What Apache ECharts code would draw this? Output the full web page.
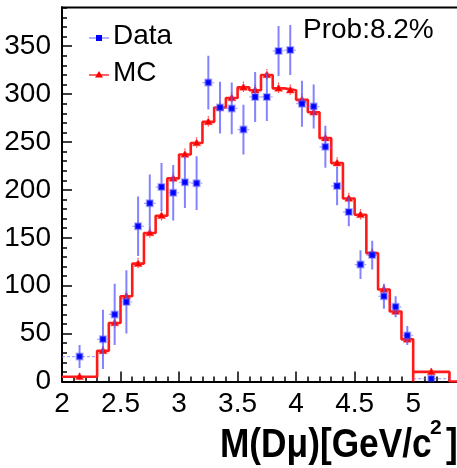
<!DOCTYPE html>
<html><head><meta charset="utf-8">
<script src="https://cdn.jsdelivr.net/npm/echarts@6/dist/echarts.min.js"></script>
<style>html,body{margin:0;padding:0;background:#fff;overflow:hidden;width:457px;height:468px}#c{position:absolute;left:0;top:-10px;width:480px;height:478px}</style>
</head><body><div id="c"></div>
<script>
// bin edges (GeV/c^2)
var binEdges = [2.0,2.3,2.4,2.5,2.6,2.7,2.8,2.9,3.0,3.1,3.2,3.3,3.4,3.5,3.6,3.7,3.8,3.9,4.0,4.1,4.2,4.3,4.4,4.5,4.6,4.7,4.8,4.9,5.0,5.31];
// Data (blue squares) values and vertical errors
var dataVals = [26,44,70,83,162,186,203,197,208,207,312,286,285,263,297,297,345,346,290,287,245,204,177,122,132,89,78,48,3];
var dataErrs = [12,31,32,33,31,30,25,29,27,28,28,27,27,26,26,25,26,26,24,23,22,20,15,15,15,13,11,10,3];
// MC (red histogram) values and errors
var mcVals = [5,32,61,89,123,155,173,212,237,249,271,286,296,307,304,320,306,304,294,281,254,228,191,174,134,96,73,44,10];
var mcErrs = [2,3,3,3,4,4,4,4,4,4,4,4,4,4,4,4,4,4,4,4,4,4,4,4,3,3,3,2,2];
var xTicks = {min:2, max:5.5, step:0.5};
var yTicks = {min:0, max:400, step:50};
var probText = 'Prob:8.2%';

var FONT = '"Liberation Sans", Arial, Helvetica, sans-serif';
var OY = 10; // container is shifted up by OY px
var n = dataVals.length;
var dataItems = [], mcItems = [], stepPts = [];
for (var i = 0; i < n; i++) {
  var lo = binEdges[i], hi = binEdges[i+1];
  var c = (lo + hi) / 2, hw = (hi - lo) / 2;
  dataItems.push([c, dataVals[i], dataErrs[i], hw]);
  mcItems.push([c, mcVals[i], mcErrs[i]]);
  if (i === n - 1) stepPts.push([lo, 0]);
  stepPts.push([lo, mcVals[i]]);
  stepPts.push([hi, mcVals[i]]);
}
stepPts.push([binEdges[n], 0]);
stepPts.push([xTicks.max, 0]);

var chart = echarts.init(document.getElementById('c'), null, {renderer:'canvas'});
var axisCommon = {
  axisLine:{show:true, onZero:false, lineStyle:{color:'#000', width:2}},
  axisTick:{show:true, inside:true, length:10, lineStyle:{color:'#000', width:1.5}},
  minorTick:{show:true, splitNumber:5, length:5, lineStyle:{color:'#000', width:1.5}},
  splitLine:{show:false},
  axisLabel:{color:'#000', fontSize:28, fontFamily:FONT, showMaxLabel:false}
};
function mergeAxis(extra){ var o = JSON.parse(JSON.stringify(axisCommon)); for (var k in extra) o[k] = extra[k]; return o; }

var xAxis = mergeAxis({type:'value', min:xTicks.min, max:xTicks.max, interval:xTicks.step});
xAxis.axisLabel.margin = 9;
var yAxis = mergeAxis({type:'value', min:yTicks.min, max:yTicks.max, interval:yTicks.step});
yAxis.axisLabel.margin = 11;

chart.setOption({
  animation:false,
  backgroundColor:'#fff',
  grid:{left:62, width:409.7, top:8.3, height:383.2, containLabel:false},
  xAxis:xAxis,
  yAxis:yAxis,
  series:[
    {
      type:'line', data:stepPts, showSymbol:false, clip:true, z:2,
      lineStyle:{color:'#ff1a1a', width:2.6}
    },
    {
      type:'custom', data:mcItems, z:3, clip:true,
      renderItem:function(params, api){
        var p = api.coord([api.value(0), api.value(1)]);
        var t = api.coord([api.value(0), api.value(1) + api.value(2)]);
        var b = api.coord([api.value(0), api.value(1) - api.value(2)]);
        var s = 4;
        return {type:'group', children:[
          {type:'line', shape:{x1:p[0], y1:t[1]-2, x2:p[0], y2:b[1]+2}, style:{stroke:'rgba(255,0,0,0.7)', lineWidth:1.2, lineDash:[1.5,1.5]}},
          {type:'polygon', shape:{points:[[p[0], p[1]-s], [p[0]-s, p[1]+s*0.7], [p[0]+s, p[1]+s*0.7]]}, style:{fill:'#ff0000', stroke:'rgba(255,60,60,0.5)', lineWidth:1}}
        ]};
      }
    },
    {
      type:'custom', data:dataItems, z:4, clip:true,
      renderItem:function(params, api){
        var x = api.value(0), y = api.value(1), e = api.value(2), hw = api.value(3);
        var p = api.coord([x, y]);
        var t = api.coord([x, y + e]);
        var b = api.coord([x, Math.max(y - e, 0)]);
        var l = api.coord([x - hw, y]);
        var r = api.coord([x + hw, y]);
        var s = 3;
        return {type:'group', children:[
          {type:'line', shape:{x1:p[0], y1:t[1], x2:p[0], y2:b[1]}, style:{stroke:'rgba(90,90,255,0.75)', lineWidth:2}},
          {type:'line', shape:{x1:l[0], y1:p[1], x2:r[0], y2:p[1]}, style:{stroke:'rgba(110,110,255,0.6)', lineWidth:1.2, lineDash:[3,2]}},
          {type:'rect', shape:{x:p[0]-s, y:p[1]-s, width:2*s, height:2*s}, style:{fill:'#0000ff', stroke:'rgba(90,90,255,0.45)', lineWidth:2}}
        ]};
      }
    }
  ],
  graphic:[
    {type:'rect', shape:{x:40, y:0, width:40, height:6.5+OY}, style:{fill:'#fff'}, z:9},
    {type:'line', shape:{x1:61, y1:7.5+OY, x2:480, y2:7.5+OY}, style:{stroke:'#000', lineWidth:2}, z:10},
    // legend
    {type:'line', shape:{x1:89, y1:38+OY, x2:109, y2:38+OY}, style:{stroke:'rgba(90,90,255,0.8)', lineWidth:1.2}},
    {type:'rect', shape:{x:96, y:35+OY, width:6, height:6}, style:{fill:'#0000ff'}},
    {type:'text', x:113, y:22+OY, style:{text:'Data', font:'28px ' + FONT, fill:'#000'}},
    {type:'line', shape:{x1:89, y1:75+OY, x2:109, y2:75+OY}, style:{stroke:'#ff3030', lineWidth:1.5}},
    {type:'polygon', shape:{points:[[99,71+OY],[95,77.5+OY],[103,77.5+OY]]}, style:{fill:'#ff0000'}},
    {type:'text', x:113, y:59+OY, style:{text:'MC', font:'28px ' + FONT, fill:'#000'}},
    // probability
    {type:'text', x:303, y:16+OY, style:{text:probText, font:'28px ' + FONT, fill:'#000'}},
    // x-axis title
    {type:'text', x:220, y:425+OY, scaleX:0.86, style:{text:'M(D\u03bc)[GeV/c', font:'bold 41px ' + FONT, fill:'#000'}},
    {type:'text', x:430, y:418+OY, style:{text:'2', font:'bold 21px ' + FONT, fill:'#000'}},
    {type:'text', x:446, y:425+OY, scaleX:0.86, style:{text:']', font:'bold 41px ' + FONT, fill:'#000'}}
  ]
});
</script></body></html>
